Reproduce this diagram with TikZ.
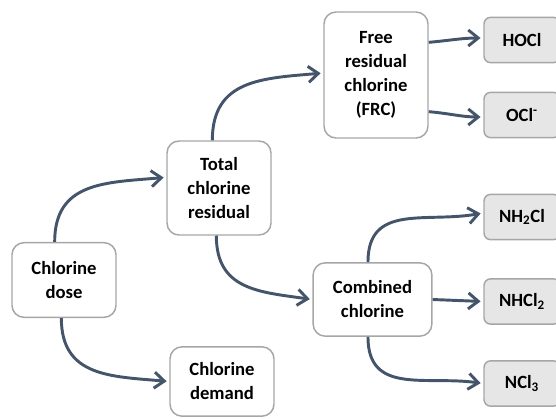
\documentclass[tikz,border=0pt]{standalone}
\usepackage{fontspec}
\setmainfont{Carlito}
\usetikzlibrary{arrows.meta}
\definecolor{arrowgray}{HTML}{44546A}
\definecolor{boxline}{HTML}{A6A6A6}
\definecolor{boxfill}{HTML}{E7E6E6}
\begin{document}
\begin{tikzpicture}[x=0.75pt,y=-0.75pt,
  stage/.style={draw=boxline, line width=1.1pt, fill=white, rounded corners=9pt,
    align=center, inner sep=0pt, font=\fontsize{14}{18}\selectfont\bfseries},
  species/.style={draw=boxline, line width=1.1pt, fill=boxfill, rounded corners=5pt,
    minimum width=57pt, minimum height=34pt, inner sep=0pt,
    font=\fontsize{14}{18}\selectfont\bfseries},
  flow/.style={draw=arrowgray, line width=2.2pt, shorten >=2pt,
    -{Straight Barb[length=7.5pt,width=12pt]}}]
  \useasboundingbox (0,0) rectangle (556,418);
  \clip (0,0) rectangle (556,418);
  % main stages
  \node[stage, minimum width=78pt, minimum height=56pt] (dose) at (64,280) {Chlorine\\dose};
  \node[stage, minimum width=78pt, minimum height=70.5pt] (total) at (219,188) {Total\\chlorine\\residual};
  \node[stage, minimum width=78pt, minimum height=52pt] (demand) at (222,381.5) {Chlorine\\demand};
  \node[stage, minimum width=78pt, minimum height=94.5pt] (frc) at (376,75) {Free\\residual\\chlorine\\(FRC)};
  \node[stage, minimum width=89pt, minimum height=55pt] (combined) at (372.5,299.5) {Combined\\chlorine};
  % chlorine species
  \node[species] (hocl) at (522,40) {HOCl};
  \node[species] (ocl) at (522,115) {OCl\textsuperscript{-}};
  \node[species] (nhcl) at (522,217) {NH\textsubscript{2}Cl};
  \node[species] (nhcltwo) at (522,301.5) {NHCl\textsubscript{2}};
  \node[species] (nclthree) at (522,383.5) {NCl\textsubscript{3}};
  % connectors
  \draw[flow] ([xshift=-7pt]dose.north) to[out=90,in=185,looseness=1.2] ([yshift=8pt]total.west);
  \draw[flow] ([xshift=-2pt]dose.south) to[out=-90,in=175,looseness=1.2] (demand.west);
  \draw[flow] ([xshift=-5pt]total.north) to[out=90,in=185,looseness=1.2] ([yshift=1.5pt]frc.west);
  \draw[flow] ([xshift=-2pt]total.south) to[out=-90,in=172,looseness=1.2] (combined.west);
  \draw[flow] ([yshift=24.5pt]frc.east) to[out=5,in=180] ([yshift=1.5pt]hocl.west);
  \draw[flow] ([yshift=-27.5pt]frc.east) to[out=-5,in=180] ([yshift=-1.5pt]ocl.west);
  \draw[flow] ([xshift=-3.4pt]combined.north) to[out=90,in=190,looseness=1.2] ([yshift=3pt]nhcl.west);
  \draw[flow] (combined.east) -- (nhcltwo.west);
  \draw[flow] ([xshift=-3.4pt]combined.south) to[out=-90,in=172,looseness=1.2] (nclthree.west);
\end{tikzpicture}
\end{document}
